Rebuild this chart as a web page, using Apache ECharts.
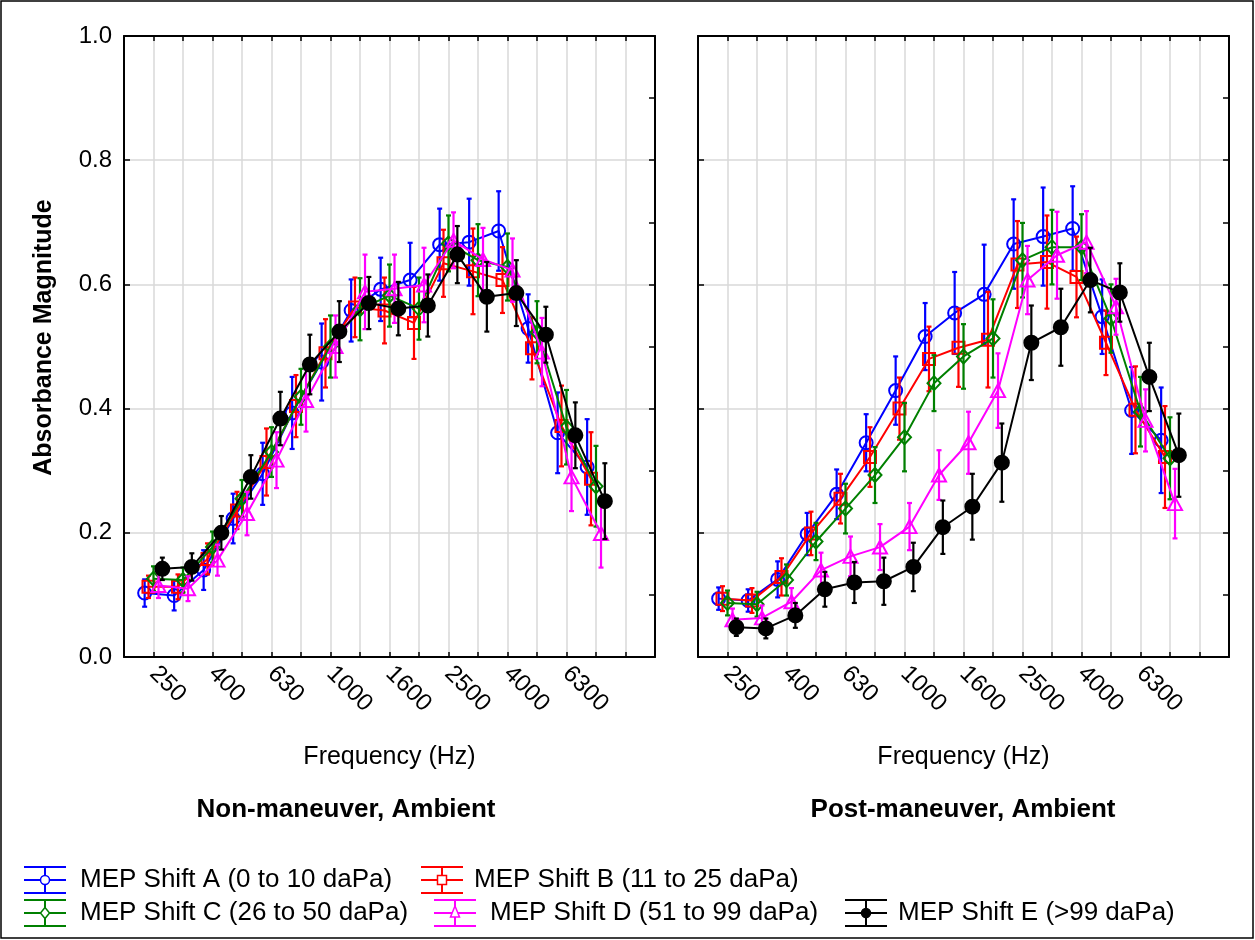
<!DOCTYPE html>
<html>
<head>
<meta charset="utf-8">
<script src="https://cdn.jsdelivr.net/npm/echarts@6/dist/echarts.min.js"></script>
<style>html,body{margin:0;padding:0;background:#fff;}#chart{width:1255px;height:940px;}</style>
</head>
<body>
<div id="chart"></div>
<script>
// 1/3-octave centre frequencies (Hz)
const freqs = [250,315,400,500,630,800,1000,1250,1600,2000,2500,3150,4000,5000,6300,8000];
const tickLabels = ['250','400','630','1000','1600','2500','4000','6300'];

const seriesNames = ['MEP Shift A (0 to 10 daPa)','MEP Shift B (11 to 25 daPa)','MEP Shift C (26 to 50 daPa)','MEP Shift D (51 to 99 daPa)','MEP Shift E (>99 daPa)'];

// Non-maneuver, Ambient: means and half error bars
const nonA = [0.103,0.099,0.140,0.223,0.295,0.393,0.475,0.558,0.592,0.607,0.664,0.668,0.686,0.529,0.361,0.306];
const nonAErr = [0.022,0.024,0.032,0.040,0.050,0.058,0.062,0.050,0.051,0.060,0.058,0.070,0.064,0.055,0.065,0.077];
const nonB = [0.113,0.113,0.158,0.236,0.314,0.404,0.489,0.563,0.558,0.538,0.634,0.621,0.607,0.497,0.372,0.287];
const nonBErr = [0.018,0.020,0.025,0.030,0.054,0.050,0.055,0.048,0.053,0.058,0.054,0.069,0.053,0.050,0.065,0.075];
const nonC = [0.126,0.124,0.177,0.255,0.330,0.419,0.500,0.560,0.582,0.561,0.666,0.639,0.628,0.523,0.370,0.275];
const nonCErr = [0.020,0.020,0.025,0.030,0.040,0.045,0.050,0.050,0.050,0.050,0.045,0.058,0.054,0.050,0.060,0.065];
const nonD = [0.115,0.110,0.156,0.231,0.317,0.413,0.500,0.588,0.593,0.599,0.671,0.640,0.623,0.491,0.290,0.199];
const nonDErr = [0.020,0.020,0.025,0.035,0.045,0.050,0.050,0.060,0.055,0.060,0.045,0.051,0.051,0.055,0.055,0.055];
const nonE = [0.142,0.145,0.200,0.290,0.384,0.471,0.524,0.570,0.561,0.566,0.648,0.580,0.586,0.519,0.357,0.251];
const nonEErr = [0.018,0.022,0.027,0.035,0.043,0.048,0.049,0.042,0.043,0.050,0.046,0.056,0.053,0.045,0.053,0.061];

// Post-maneuver, Ambient
const postA = [0.094,0.091,0.125,0.198,0.262,0.345,0.429,0.516,0.554,0.584,0.665,0.677,0.690,0.548,0.397,0.349];
const postAErr = [0.018,0.018,0.029,0.034,0.040,0.046,0.055,0.054,0.066,0.080,0.072,0.079,0.068,0.060,0.070,0.085];
const postB = [0.094,0.091,0.129,0.199,0.255,0.322,0.400,0.480,0.498,0.511,0.632,0.636,0.612,0.506,0.398,0.322];
const postBErr = [0.020,0.020,0.030,0.035,0.040,0.048,0.050,0.052,0.063,0.077,0.070,0.075,0.065,0.052,0.070,0.082];
const postC = [0.087,0.085,0.124,0.186,0.239,0.293,0.354,0.441,0.484,0.513,0.639,0.660,0.660,0.545,0.395,0.320];
const postCErr = [0.020,0.020,0.025,0.030,0.040,0.045,0.055,0.045,0.052,0.063,0.060,0.060,0.053,0.055,0.056,0.066];
const postD = [0.060,0.063,0.089,0.140,0.162,0.177,0.210,0.293,0.345,0.429,0.607,0.647,0.668,0.564,0.381,0.247];
const postDErr = [0.018,0.020,0.022,0.028,0.032,0.037,0.038,0.040,0.050,0.060,0.055,0.070,0.050,0.045,0.050,0.056];
const postE = [0.048,0.046,0.067,0.109,0.120,0.122,0.145,0.209,0.242,0.313,0.506,0.531,0.607,0.587,0.451,0.325];
const postEErr = [0.014,0.016,0.020,0.028,0.033,0.038,0.039,0.043,0.053,0.063,0.060,0.062,0.052,0.047,0.055,0.067];

const panelTitles = ['Non-maneuver, Ambient','Post-maneuver, Ambient'];
</script>
<script>
const FONT = '"Liberation Sans", Arial, Helvetica, sans-serif';
const colors = ['#0000ff','#ff0000','#008000','#ff00ff','#000000'];
const symbols = ['circle','rect','diamond','triangle','circle'];
const symbolSizes = [13,12,[13,14],[14,13],14];
const fills = ['rgba(255,255,255,0)','rgba(255,255,255,0)','rgba(255,255,255,0)','rgba(255,255,255,0)','#000000'];
const offsets = [-0.3,-0.17,0,0.17,0.3];
const panels = [
  {vals:[nonA,nonB,nonC,nonD,nonE], errs:[nonAErr,nonBErr,nonCErr,nonDErr,nonEErr]},
  {vals:[postA,postB,postC,postD,postE], errs:[postAErr,postBErr,postCErr,postDErr,postEErr]}
];
const gridDefs = [{left:124,right:600,top:36,bottom:283},{left:698,right:26,top:36,bottom:283}];

function xLabel(v){
  const idx = Math.round(v) - 1;
  if (idx >= 0 && idx < freqs.length) {
    const s = String(freqs[idx]);
    if (tickLabels.indexOf(s) >= 0) return s;
  }
  return '';
}

const xAxes = [], yAxes = [], series = [];
gridDefs.forEach((g, gi) => {
  xAxes.push({
    gridIndex: gi, type: 'value', min: 0, max: freqs.length + 2, interval: 1, position: 'bottom',
    axisLine: {show: true, onZero: false, lineStyle: {color: '#000', width: 2}},
    axisTick: {show: true, inside: true, length: 5, lineStyle: {color: '#000', width: 1.5}},
    splitLine: {show: true, lineStyle: {color: '#d9d9d9', width: 1.5}},
    axisLabel: {show: true, rotate: -45, margin: 13, fontSize: 24, color: '#000', fontFamily: FONT, formatter: xLabel, showMinLabel: true, showMaxLabel: true},
    name: 'Frequency (Hz)', nameLocation: 'middle', nameGap: 88,
    nameTextStyle: {fontSize: 25, color: '#000', fontFamily: FONT}
  });
  xAxes.push({
    gridIndex: gi, type: 'value', min: 0, max: freqs.length + 2, interval: 1, position: 'top',
    axisLine: {show: true, onZero: false, lineStyle: {color: '#000', width: 2}},
    axisTick: {show: true, inside: true, length: 5, lineStyle: {color: '#000', width: 1.5}},
    splitLine: {show: false}, axisLabel: {show: false}
  });
  yAxes.push({
    gridIndex: gi, type: 'value', min: 0, max: 1, interval: 0.2, position: 'left',
    axisLine: {show: true, onZero: false, lineStyle: {color: '#000', width: 2}},
    axisTick: {show: true, inside: true, length: 6, lineStyle: {color: '#000', width: 1.5}},
    splitLine: {show: true, lineStyle: {color: '#d9d9d9', width: 1.5}},
    axisLabel: {show: gi === 0, margin: 12, fontSize: 24, color: '#000', fontFamily: FONT, formatter: v => v.toFixed(1)},
    name: gi === 0 ? 'Absorbance Magnitude' : '', nameLocation: 'middle', nameGap: 67,
    nameTextStyle: {fontSize: 25, fontWeight: 'bold', color: '#000', fontFamily: FONT, padding: [0, 0, 0, 18]}
  });
  yAxes.push({
    gridIndex: gi, type: 'value', min: 0, max: 1, interval: 0.1, position: 'right',
    axisLine: {show: true, onZero: false, lineStyle: {color: '#000', width: 2}},
    axisTick: {show: true, inside: true, length: 6, lineStyle: {color: '#000', width: 1.5}},
    splitLine: {show: false}, axisLabel: {show: false}
  });

  const p = panels[gi];
  p.vals.forEach((vals, si) => {
    const color = colors[si];
    const pts = vals.map((v, i) => [i + 1 + offsets[si], v, p.errs[si][i]]);
    series.push({
      type: 'custom', name: seriesNames[si], xAxisIndex: gi * 2, yAxisIndex: gi * 2,
      z: 3 + si * 2, silent: true, animation: false,
      encode: {x: 0, y: 1},
      data: pts,
      renderItem: function (params, api) {
        const x = api.value(0), y = api.value(1), e = api.value(2);
        const t = api.coord([x, y + e]);
        const b = api.coord([x, y - e]);
        const cw = 2.5;
        const st = {stroke: color, lineWidth: 2.2};
        return {type: 'group', children: [
          {type: 'line', shape: {x1: t[0], y1: t[1], x2: b[0], y2: b[1]}, style: st},
          {type: 'line', shape: {x1: t[0] - cw, y1: t[1], x2: t[0] + cw, y2: t[1]}, style: st},
          {type: 'line', shape: {x1: b[0] - cw, y1: b[1], x2: b[0] + cw, y2: b[1]}, style: st}
        ]};
      }
    });
    series.push({
      type: 'line', name: seriesNames[si], xAxisIndex: gi * 2, yAxisIndex: gi * 2,
      z: 4 + si * 2, animation: false,
      data: pts.map(d => [d[0], d[1]]),
      symbol: symbols[si], symbolSize: symbolSizes[si], showAllSymbol: true,
      lineStyle: {color: color, width: 2},
      itemStyle: {color: fills[si], borderColor: color, borderWidth: 2}
    });
  });
});

// legend (graphic)
const legendPos = [
  {x: 45, y: 880, tx: 80}, {x: 442, y: 880, tx: 474},
  {x: 45, y: 913, tx: 80}, {x: 455, y: 913, tx: 490}, {x: 866, y: 913, tx: 898}
];
const graphics = [];
legendPos.forEach((lp, i) => {
  const c = colors[i];
  const st = {stroke: c, lineWidth: 2, fill: null};
  const hw = 21, hh = 13;
  const ch = [
    {type: 'line', shape: {x1: lp.x - hw, y1: lp.y, x2: lp.x + hw, y2: lp.y}, style: st},
    {type: 'line', shape: {x1: lp.x - hw, y1: lp.y - hh, x2: lp.x + hw, y2: lp.y - hh}, style: st},
    {type: 'line', shape: {x1: lp.x - hw, y1: lp.y + hh, x2: lp.x + hw, y2: lp.y + hh}, style: st},
    {type: 'line', shape: {x1: lp.x, y1: lp.y - hh, x2: lp.x, y2: lp.y + hh}, style: st}
  ];
  const ms = {stroke: c, lineWidth: 1.5, fill: i === 4 ? '#000' : '#fff'};
  if (symbols[i] === 'circle') ch.push({type: 'circle', shape: {cx: lp.x, cy: lp.y, r: 4.5}, style: ms});
  if (symbols[i] === 'rect') ch.push({type: 'rect', shape: {x: lp.x - 4.5, y: lp.y - 4.5, width: 9, height: 9}, style: ms});
  if (symbols[i] === 'diamond') ch.push({type: 'polygon', shape: {points: [[lp.x, lp.y - 5.5], [lp.x + 4.5, lp.y], [lp.x, lp.y + 5.5], [lp.x - 4.5, lp.y]]}, style: ms});
  if (symbols[i] === 'triangle') ch.push({type: 'polygon', shape: {points: [[lp.x, lp.y - 7], [lp.x + 4.5, lp.y + 4], [lp.x - 4.5, lp.y + 4]]}, style: ms});
  ch.push({type: 'text', style: {x: lp.tx, y: lp.y, text: seriesNames[i], fill: '#000', font: '26px ' + FONT, textAlign: 'left', textVerticalAlign: 'middle'}});
  graphics.push({type: 'group', children: ch});
});
graphics.push({type: 'text', style: {x: 346, y: 810, text: panelTitles[0], fill: '#000', font: 'bold 26px ' + FONT, textAlign: 'center', textVerticalAlign: 'middle'}});
graphics.push({type: 'text', style: {x: 963, y: 810, text: panelTitles[1], fill: '#000', font: 'bold 26px ' + FONT, textAlign: 'center', textVerticalAlign: 'middle'}});
graphics.push({type: 'rect', shape: {x: 1, y: 1, width: 1252, height: 937}, style: {stroke: '#000', lineWidth: 1.5, fill: null}, z: -1});

const chart = echarts.init(document.getElementById('chart'), null, {renderer: 'canvas'});
chart.setOption({
  backgroundColor: '#ffffff',
  animation: false,
  grid: gridDefs,
  xAxis: xAxes,
  yAxis: yAxes,
  series: series,
  graphic: graphics
});
</script>
</body>
</html>
